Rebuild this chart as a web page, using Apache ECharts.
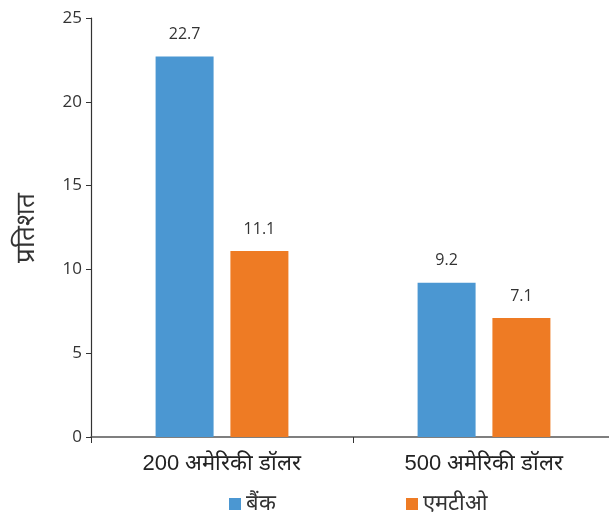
<!DOCTYPE html>
<html>
<head>
<meta charset="utf-8">
<script src="https://cdn.jsdelivr.net/npm/echarts@6/dist/echarts.min.js"></script>
<style>
  html, body { margin: 0; padding: 0; background: #fff; overflow: hidden; }
  #chart { width: 615px; height: 517px; }
</style>
</head>
<body>
<div id="chart"></div>
<script>
// Share of remittance cost (%) by amount sent and channel
const categories = ['200 अमेरिकी डॉलर', '500 अमेरिकी डॉलर'];
const bankValues = [22.7, 9.2];
const mtoValues = [11.1, 7.1];
const seriesNames = ['बैंक', 'एमटीओ'];
const axisName = 'प्रतिशत';

const FONT = "'Open Sans', 'Noto Sans', sans-serif";
const SANS = "'Liberation Sans', Arial, sans-serif";
const BLUE = '#4B97D2';
const ORANGE = '#EE7B24';

const chart = echarts.init(document.getElementById('chart'), null, { renderer: 'canvas' });

const labelStyle = {
  show: true,
  position: 'top',
  distance: 14,
  color: '#333',
  fontSize: 16,
  fontFamily: FONT
};

const legendBase = {
  top: 493,
  padding: 0,
  itemWidth: 12, itemHeight: 12, itemGap: 6,
  icon: 'rect',
  textStyle: { fontSize: 22, color: '#333', fontFamily: SANS }
};

chart.setOption({
  animation: false,
  backgroundColor: '#fff',
  grid: { left: 91, top: 18, right: 0, height: 419, containLabel: false },
  legend: [
    Object.assign({ data: [seriesNames[0]], left: 229 }, legendBase),
    Object.assign({ data: [seriesNames[1]], left: 406 }, legendBase)
  ],
  xAxis: {
    type: 'category',
    data: categories,
    axisLine: { lineStyle: { color: '#555', width: 1.5 } },
    axisTick: { show: true, length: 6, alignWithLabel: false, lineStyle: { color: '#333' } },
    axisLabel: { fontSize: 22, color: '#222', fontFamily: SANS, margin: 16 }
  },
  yAxis: {
    type: 'value',
    min: 0, max: 25, interval: 5,
    name: axisName,
    nameLocation: 'middle',
    nameGap: 51,
    nameRotate: 90,
    nameTextStyle: { fontSize: 26, color: '#333', fontFamily: SANS },
    axisLine: { show: true, lineStyle: { color: '#333', width: 1.2 } },
    axisTick: { show: true, length: 5, lineStyle: { color: '#333' } },
    splitLine: { show: false },
    axisLabel: { fontSize: 17, color: '#333', fontFamily: FONT, margin: 9 }
  },
  series: [
    {
      name: seriesNames[0],
      type: 'bar',
      data: bankValues,
      barWidth: 58,
      barGap: '29%',
      itemStyle: { color: BLUE },
      label: labelStyle
    },
    {
      name: seriesNames[1],
      type: 'bar',
      data: mtoValues,
      barWidth: 58,
      itemStyle: { color: ORANGE },
      label: labelStyle
    }
  ]
});
</script>
</body>
</html>
